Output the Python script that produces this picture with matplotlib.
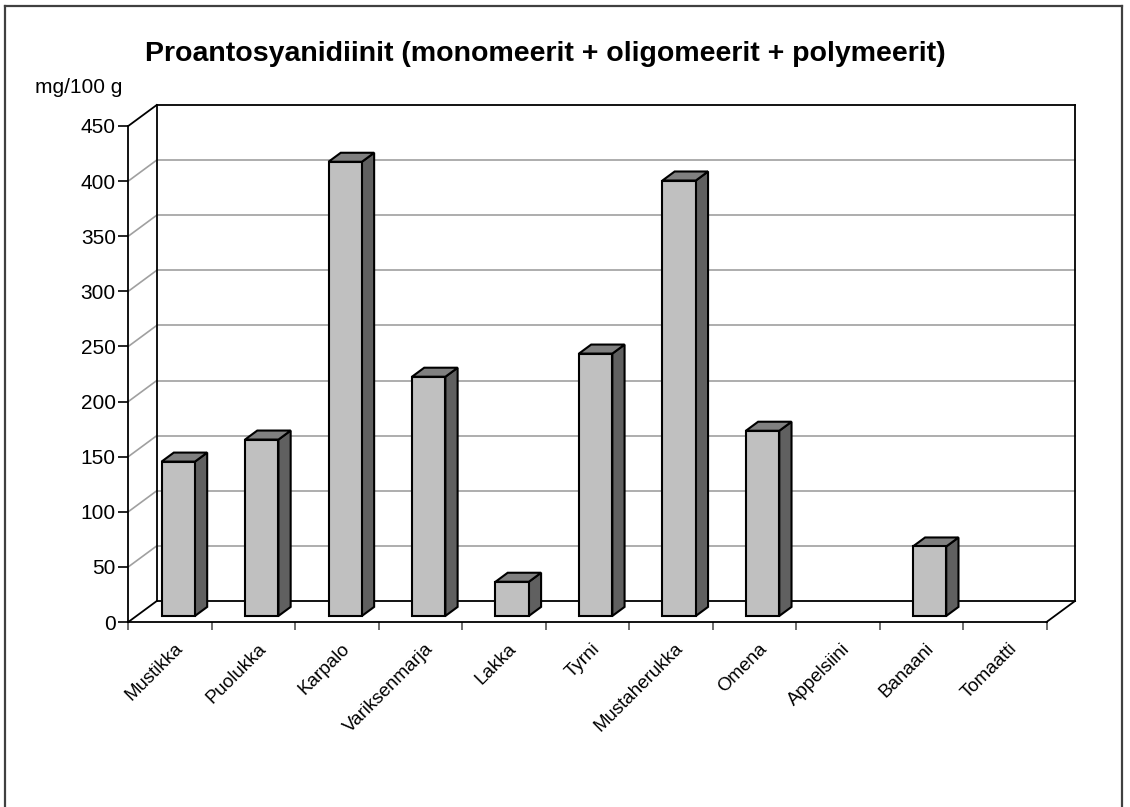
import matplotlib
matplotlib.use("Agg")
import matplotlib.pyplot as plt
from matplotlib.patches import Polygon
from matplotlib.lines import Line2D
from matplotlib.transforms import ScaledTranslation

plt.rcParams['font.family'] = ['Liberation Sans', 'DejaVu Sans']

categories = ["Mustikka", "Puolukka", "Karpalo", "Variksenmarja", "Lakka", "Tyrni",
              "Mustaherukka", "Omena", "Appelsiini", "Banaani", "Tomaatti"]
values = [140, 160, 412, 217, 31, 238, 395, 168, 0, 63, 0]
y_ticks = [0, 50, 100, 150, 200, 250, 300, 350, 400, 450]
title = "Proantosyanidiinit (monomeerit + oligomeerit + polymeerit)"
unit_label = "mg/100 g"

# oblique depth of the 3-D box, in data units
DX = 0.341      # category units
DY = 19.05      # value units
YMAX = 450
n = len(categories)

# bar geometry (fractions of a category / of the depth)
BAR_W = 0.40
F0, F1 = 0.29, 0.72

FRONT = "#c0c0c0"
SIDE = "#606060"
TOP = "#808080"
GRID = "#a0a0a0"

fig = plt.figure(figsize=(11.3, 8.07), dpi=100)
ax = fig.add_axes([0.1135, 0.2292, 0.8378, 0.6407])
ax.set_xlim(0, n + DX)
ax.set_ylim(0, YMAX + DY)

for s in ("top", "right"):
    ax.spines[s].set_visible(False)
ax.spines["left"].set_bounds(0, YMAX)
ax.spines["bottom"].set_bounds(0, n)
for s in ("left", "bottom"):
    ax.spines[s].set_linewidth(1.3)
    ax.spines[s].set_color("black")

ax.set_yticks(y_ticks)
ax.set_yticklabels([str(t) for t in y_ticks])
ax.tick_params(axis="y", direction="out", length=7, width=1.2, labelsize=15, pad=2)

ax.set_xticks(range(n + 1))
ax.set_xticklabels([])
ax.tick_params(axis="x", which="major", direction="out", length=6, width=1.2, color="#555555")
ax.set_xticks([i + 0.5 for i in range(n)], minor=True)
ax.set_xticklabels(categories, minor=True)
ax.tick_params(axis="x", which="minor", length=0, labelsize=13.5, pad=13, labelrotation=45)
for lbl in ax.get_xticklabels(minor=True):
    lbl.set_ha("right")
    lbl.set_va("top")
    lbl.set_rotation_mode("anchor")
    lbl.set_transform(lbl.get_transform() + ScaledTranslation(0.04, 0, fig.dpi_scale_trans))

# walls: gridlines on the side wall (diagonal) and back wall (horizontal)
for t in y_ticks[1:-1]:
    ax.plot([0, DX], [t, t + DY], color=GRID, lw=1.2, zorder=1, clip_on=False)
    ax.plot([DX, n + DX], [t + DY, t + DY], color=GRID, lw=1.2, zorder=1, clip_on=False)

# box outline
box_lines = [
    ([DX, DX], [DY, YMAX + DY]),
    ([DX, n + DX], [YMAX + DY, YMAX + DY]),
    ([n + DX, n + DX], [DY, YMAX + DY]),
    ([0, DX], [YMAX, YMAX + DY]),
    ([0, DX], [0, DY]),
    ([DX, n + DX], [DY, DY]),
    ([n, n + DX], [0, DY]),
]
for xs, ys in box_lines:
    ax.plot(xs, ys, color="black", lw=1.3, zorder=2, clip_on=False, solid_capstyle="projecting")

# 3-D bars
for i, v in enumerate(values):
    if v <= 0:
        continue
    x0 = i + (1 - BAR_W) / 2 + F0 * DX
    y0 = F0 * DY
    x1 = x0 + BAR_W
    y1 = y0 + v
    ddx = (F1 - F0) * DX
    ddy = (F1 - F0) * DY
    side = [(x1, y0), (x1 + ddx, y0 + ddy), (x1 + ddx, y1 + ddy), (x1, y1)]
    top = [(x0, y1), (x1, y1), (x1 + ddx, y1 + ddy), (x0 + ddx, y1 + ddy)]
    front = [(x0, y0), (x1, y0), (x1, y1), (x0, y1)]
    for pts, col in ((side, SIDE), (top, TOP), (front, FRONT)):
        ax.add_patch(Polygon(pts, closed=True, facecolor=col, edgecolor="black",
                             lw=1.5, joinstyle="miter", zorder=3, clip_on=False))

fig.text(0.483, 0.933, title, ha="center", va="center", fontsize=20.5, fontweight="bold")
fig.text(0.031, 0.892, unit_label, ha="left", va="center", fontsize=15)

# outer frame
frame_col = "#404040"
fig.add_artist(Line2D([0.004, 0.004], [0.0, 0.9926], transform=fig.transFigure, color=frame_col, lw=1.6))
fig.add_artist(Line2D([0.004, 0.9925], [0.9926, 0.9926], transform=fig.transFigure, color=frame_col, lw=1.6))
fig.add_artist(Line2D([0.9925, 0.9925], [0.0, 0.9926], transform=fig.transFigure, color=frame_col, lw=1.6))

fig.savefig("out.png", dpi=100)
